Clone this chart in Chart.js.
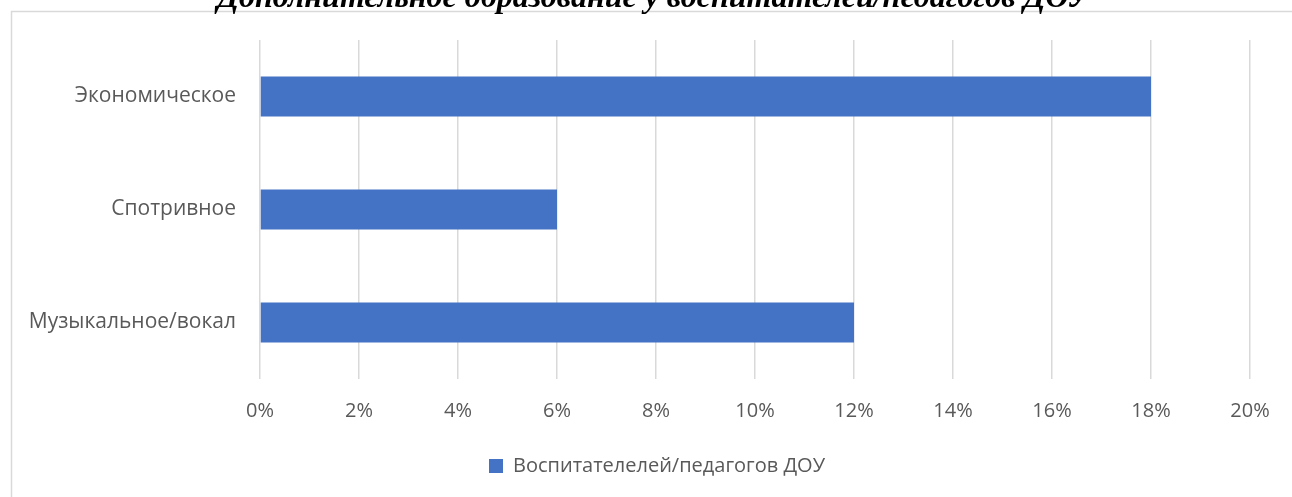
<!DOCTYPE html>
<html>
<head>
<meta charset="utf-8">
<script src="https://cdn.jsdelivr.net/npm/chart.js@4.4.1/dist/chart.umd.min.js"></script>
<style>
  html, body { margin: 0; padding: 0; background: #fff; }
  #wrap { width: 1292px; height: 497px; position: relative; }
</style>
</head>
<body>
<div id="wrap"><canvas id="chart"></canvas></div>
<script>
// -------------------- DATA --------------------
const categories = ['Экономическое', 'Спотривное', 'Музыкальное/вокал'];
const seriesName = 'Воспитателелей/педагогов ДОУ';
const shares = [18, 6, 12]; // %
const xTicks = [0, 2, 4, 6, 8, 10, 12, 14, 16, 18, 20];
const chartTitle = 'Дополнительное образование у воспитателей/педагогов ДОУ';

const barColor = '#4472C4';
const textColor = '#595959';
const gridColor = '#d9d9d9';
const uiFont = '"Open Sans", "Noto Sans", sans-serif';

// frame + half-cut title like the source image, legend nudged right
const decor = {
    id: 'decor',
    afterLayout(chart) {
        chart.legend.left += 32;
        chart.legend.right += 32;
    },
    beforeDraw(chart) {
        const c = chart.ctx;
        c.save();
        c.strokeStyle = gridColor;
        c.lineWidth = 1.5;
        c.strokeRect(11.5, 11.5, 1400, 600);
        c.restore();
    },
    afterDraw(chart) {
        const c = chart.ctx;
        c.save();
        c.fillStyle = '#000';
        c.font = 'italic bold 32px "Liberation Serif", "DejaVu Serif", serif';
        c.textAlign = 'center';
        c.textBaseline = 'alphabetic';
        c.fillText(chartTitle, 653, 7);
        c.restore();
    }
};

const ctx = document.getElementById('chart').getContext('2d');
new Chart(ctx, {
    type: 'bar',
    data: {
        labels: categories,
        datasets: [{
            label: seriesName,
            data: shares,
            backgroundColor: barColor,
            barPercentage: 0.354,
            categoryPercentage: 1
        }]
    },
    options: {
        indexAxis: 'y',
        responsive: true,
        maintainAspectRatio: false,
        animation: false,
        layout: { padding: { top: 40, right: 42, left: 0, bottom: 11 } },
        scales: {
            x: {
                min: 0,
                max: 20,
                afterBuildTicks: (axis) => { axis.ticks = xTicks.map(v => ({ value: v })); },
                afterFit: (axis) => { axis.height = 67; },
                grid: { color: gridColor, lineWidth: 1.5, drawTicks: false },
                border: { display: false },
                ticks: {
                    color: textColor,
                    padding: 20,
                    font: { family: uiFont, size: 20 },
                    callback: (v) => v + '%'
                }
            },
            y: {
                afterFit: (axis) => { axis.width = 260; },
                grid: { display: false },
                border: { display: false },
                ticks: {
                    color: textColor,
                    padding: 16,
                    font: { family: uiFont, size: 21 }
                }
            }
        },
        plugins: {
            legend: {
                position: 'bottom',
                labels: {
                    color: textColor,
                    boxWidth: 14,
                    boxHeight: 14,
                    padding: 10,
                    font: { family: uiFont, size: 20 }
                }
            },
            tooltip: {
                callbacks: {
                    label: (c) => c.raw + '%'
                }
            }
        }
    },
    plugins: [decor]
});
</script>
</body>
</html>
